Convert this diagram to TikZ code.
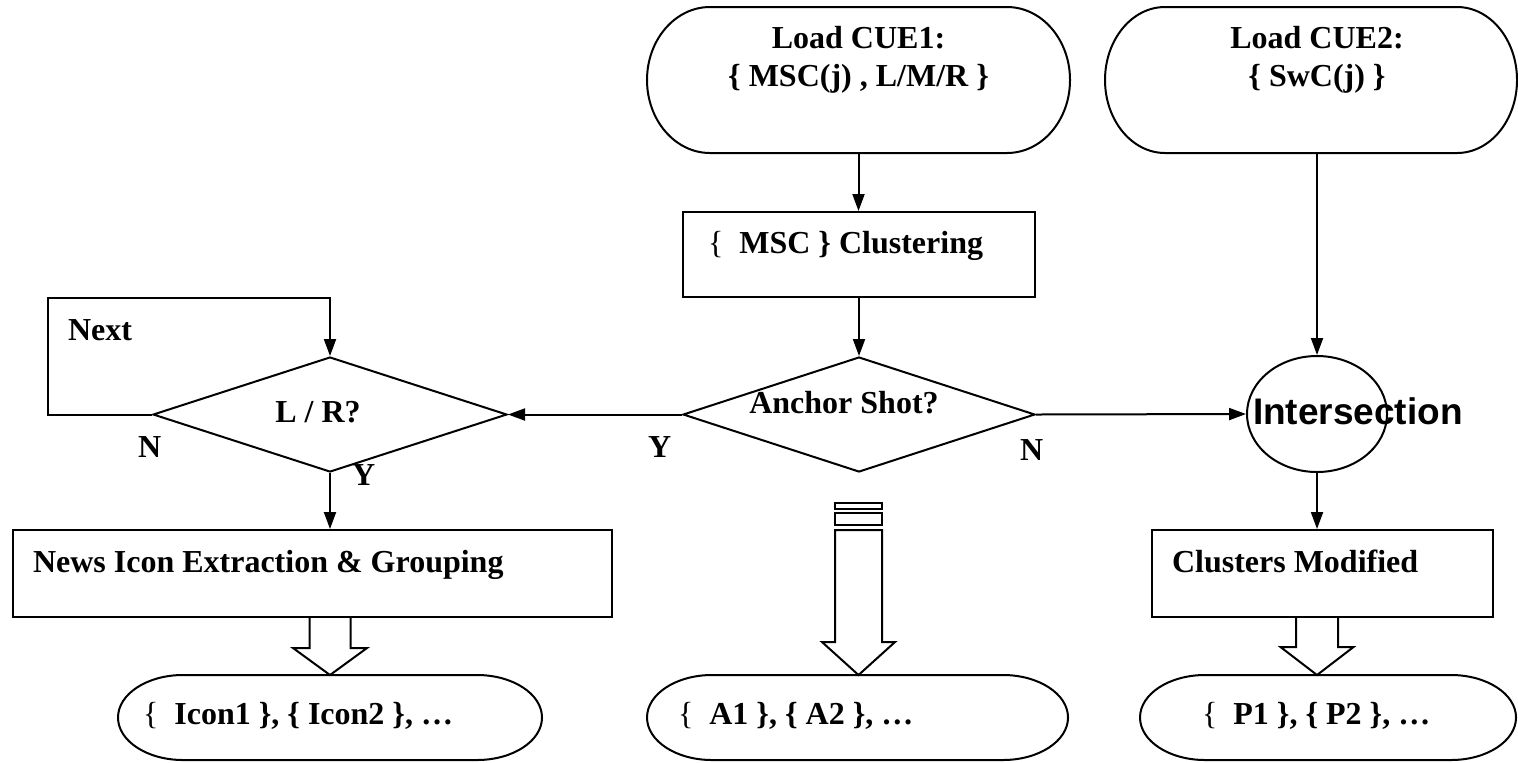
\documentclass[tikz,border=0pt]{standalone}
\usepackage{fontspec}
\setmainfont{Liberation Serif}
\newfontfamily\labelsans{Liberation Sans}
\usetikzlibrary{arrows.meta,shapes.geometric,calc}

% terminal outline with half-elliptic ends around an invisible node
\newcommand\termshape[3]{%
  \draw ([xshift=#2]#1.north west) -- ([xshift=-#2]#1.north east)
    arc[start angle=90,end angle=-90,x radius=#2,y radius=#3]
    -- ([xshift=#2]#1.south west)
    arc[start angle=270,end angle=90,x radius=#2,y radius=#3] -- cycle;}

% hollow block arrow: #1 shaft top, #2 tip, #3 shaft half width,
% #4 head half width, #5 head length
\newcommand\blockarrow[5]{%
  \draw ($(#1)+(-#3,0)$) -- ($(#2)+(-#3,-#5)$) -- ($(#2)+(-#4,-#5)$)
    -- (#2) -- ($(#2)+(#4,-#5)$) -- ($(#2)+(#3,-#5)$) -- ($(#1)+(#3,0)$);}

\begin{document}
\begin{tikzpicture}[x=0.5pt,y=-0.5pt,line width=1pt,
  txt/.style={font=\fontsize{16}{19}\selectfont\bfseries,inner sep=0pt,outer sep=0pt},
  area/.style={draw=none,inner sep=0pt,outer sep=0pt},
  procbox/.style={draw,inner sep=0pt},
  decision/.style={draw,diamond,inner sep=0pt},
  arr/.style={-{Triangle[length=8.5pt,width=6pt]}}]
\useasboundingbox (0,0) rectangle (1518,762);

% ---- top terminals
\node[area,minimum width=211.5pt,minimum height=73pt] (cue1) at (858.5,80) {};
\node[area,minimum width=206pt,minimum height=73pt] (cue2) at (1311,80) {};
\termshape{cue1}{31.5pt}{36.5pt}
\termshape{cue2}{30pt}{36.5pt}
\node[txt,align=center] (cue1t) at (858.5,60) {Load CUE1:\\\{ MSC(j) , L/M/R \}};
\node[txt,align=center] (cue2t) at (1317,60) {Load CUE2:\\\{ SwC(j) \}};

% ---- clustering box
\node[procbox,minimum width=176pt,minimum height=42.5pt] (msc) at (859,254.5) {};
\node[txt,anchor=base west] (msct) at (708,253) {{\mdseries\{}\ \ MSC \} Clustering};

% ---- decisions
\node[decision,minimum width=176pt,minimum height=57.5pt] (anch) at (859,414.5) {};
\node[txt,anchor=base] (ancht) at (844,413) {Anchor Shot?};
\node[decision,minimum width=177pt,minimum height=57.5pt] (lr) at (330,414.5) {};
\node[txt,anchor=base] (lrt) at (318,422) {L / R?};

% ---- intersection
\node[draw,ellipse,inner sep=0pt,minimum width=70pt,minimum height=58pt] (isect) at (1317,414) {};
\node[anchor=base west,inner sep=0pt,font=\labelsans\fontsize{18.5}{22}\selectfont\bfseries] (isectt) at (1252,424) {Intersection};

% ---- lower boxes
\node[procbox,minimum width=299.5pt,minimum height=43.5pt] (news) at (312.5,573.5) {};
\node[txt,anchor=base west] (newst) at (33,572) {News Icon Extraction \& Grouping};
\node[procbox,minimum width=170.5pt,minimum height=43.5pt] (clust) at (1322.5,573.5) {};
\node[txt,anchor=base west] (clustt) at (1172,572) {Clusters Modified};

% ---- bottom terminals
\node[area,minimum width=212pt,minimum height=42.5pt] (icons) at (330,717.5) {};
\node[area,minimum width=210.5pt,minimum height=42.5pt] (abox) at (857.5,717.5) {};
\node[area,minimum width=188pt,minimum height=42.5pt] (pbox) at (1328,717.5) {};
\termshape{icons}{32.5pt}{21.25pt}
\termshape{abox}{32.5pt}{21.25pt}
\termshape{pbox}{32.5pt}{21.25pt}
\node[txt,anchor=base west] (iconst) at (143,724) {{\mdseries\{}\ \ Icon1 \}, \{ Icon2 \}, …};
\node[txt,anchor=base west] (aboxt) at (678,724) {{\mdseries\{}\ \ A1 \}, \{ A2 \}, …};
\node[txt,anchor=base west] (pboxt) at (1202,724) {{\mdseries\{}\ \ P1 \}, \{ P2 \}, …};

% ---- branch labels
\node[txt,anchor=base west] (nextt) at (68,340) {Next};
\node[txt,anchor=base west] (lrn) at (138,457) {N};
\node[txt,anchor=base west] (lry) at (352,485) {Y};
\node[txt,anchor=base west] (ay) at (648,457) {Y};
\node[txt,anchor=base west] (an) at (1020,460) {N};

% ---- connectors
\coordinate (loopc) at (48,298);
\draw[arr] (cue1.south) -- (cue1.south |- msc.north);
\draw[arr] (msc.south) -- (anch.north);
\draw[arr] (anch.west) -- (lr.east);
\draw[arr] (anch.east) -- (isect.west);
\draw[arr] (isect.north |- cue2.south) -- (isect.north);
\draw[arr] (isect.south) -- (isect.south |- clust.north);
\draw[arr] (lr.south) -- (lr.south |- news.north);
\draw[arr] (lr.west) -| (loopc) -| (lr.north);

% ---- block arrows into the result lists
\coordinate (ltop) at (icons.north |- news.south);
\blockarrow{ltop}{icons.north}{20.5}{37}{27}
\coordinate (rtop) at (isect.south |- clust.south);
\coordinate (rtip) at (isect.south |- pbox.north);
\blockarrow{rtop}{rtip}{21}{36.5}{28}
\coordinate (mtop) at (858.5,530);
\coordinate (mtip) at (858.5,675);
\draw ($(mtop)+(-23.5,0)$) -- ($(mtip)+(-23.5,-33)$) -- ($(mtip)+(-36.5,-33)$)
  -- (mtip) -- ($(mtip)+(36.5,-33)$) -- ($(mtip)+(23.5,-33)$)
  -- ($(mtop)+(23.5,0)$) -- cycle;
\draw ($(mtop)+(-23.5,-5)$) rectangle ($(mtop)+(23.5,-17)$);
\draw ($(mtop)+(-23.5,-21)$) rectangle ($(mtop)+(23.5,-27)$);
\end{tikzpicture}
\end{document}
